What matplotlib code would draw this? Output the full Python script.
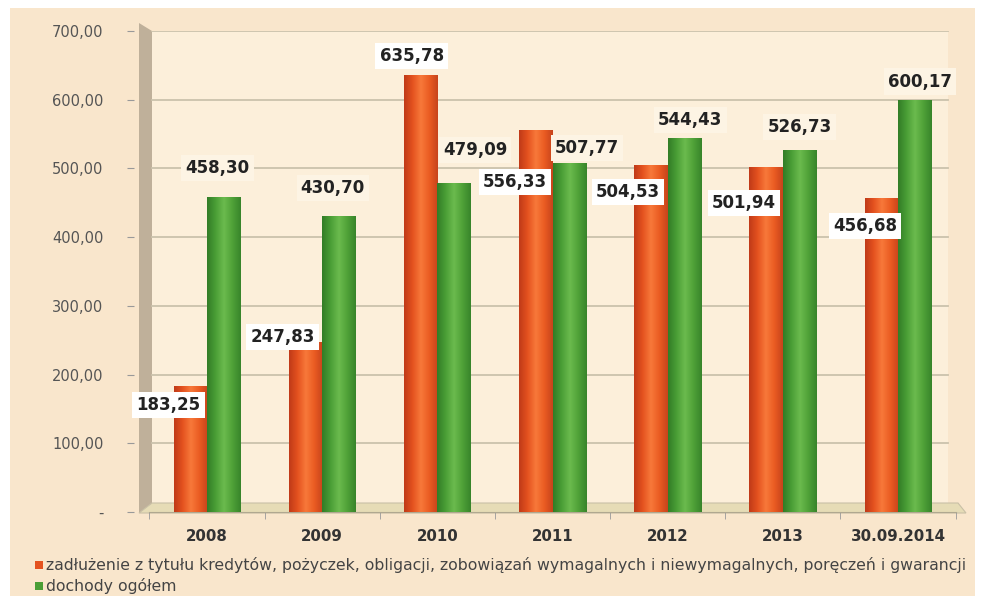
import matplotlib.pyplot as plt
from matplotlib.patches import Polygon, Rectangle
from matplotlib.colors import LinearSegmentedColormap
import numpy as np

categories = ['2008', '2009', '2010', '2011', '2012', '2013', '30.09.2014']
zadluzenie = [183.25, 247.83, 635.78, 556.33, 504.53, 501.94, 456.68]
dochody = [458.30, 430.70, 479.09, 507.77, 544.43, 526.73, 600.17]
yticks = [0, 100, 200, 300, 400, 500, 600, 700]
ytick_labels = ['-', '100,00', '200,00', '300,00', '400,00', '500,00', '600,00', '700,00']
legend_labels = ['zadłużenie z tytułu kredytów, pożyczek, obligacji, zobowiązań wymagalnych i niewymagalnych, poręczeń i gwarancji',
                 'dochody ogółem']

# label offsets (pixels) from bar top centre - placed by hand as in the original
off_z = [(-22, -19), (-23, 5), (-9, 19), (-21, -52), (-23, -27), (-22, -36), (-16, -28)]
off_d = [(-6, 29), (-6, 28), (21, 33), (18, 15), (6, 18), (0, 23), (5, 18)]

W, H = 981, 596
fig = plt.figure(figsize=(W / 100, H / 100), dpi=100, facecolor='white')

def fp(px, py):
    return (px / W, 1 - py / H)

# outer cream panel, back wall, left wall, floor (behind the axes)
bg = [
    Rectangle(fp(10, 596), 965 / W, 588 / H, facecolor='#f9e6cc', edgecolor='none'),
    Rectangle(fp(152, 505), (948 - 152) / W, (505 - 31) / H, facecolor='#fcefda', edgecolor='none'),
    Polygon([fp(139, 23), fp(152, 31), fp(152, 505), fp(139, 513)], closed=True,
            facecolor='#bfb09a', edgecolor='none'),
    Polygon([fp(139, 513), fp(966, 513), fp(958, 503), fp(152, 503)], closed=True,
            facecolor='#e6dcb6', edgecolor='#c9c0a6', linewidth=0.8),
]
for p in bg:
    p.set_transform(fig.transFigure)
    p.set_zorder(-5)
    fig.patches.append(p)

L, R, B, T = 149.4, 955.6, 512, 31
ax = fig.add_axes([L / W, 1 - B / H, (R - L) / W, (B - T) / H])
ax.set_facecolor('none')
ax.set_zorder(2)

x = np.arange(len(categories))
w = 0.29
orange_cmap = LinearSegmentedColormap.from_list('o', ['#c03a18', '#e4521f', '#f8793a', '#ea5c22', '#c8441c'])
green_cmap = LinearSegmentedColormap.from_list('g', ['#327d27', '#4a9e36', '#6bbb4e', '#50a238', '#38852b'])
grad = np.linspace(0, 1, 64).reshape(1, -1)

bars_z = ax.bar(x - w / 2, zadluzenie, width=w, color='#e4521f', zorder=3)
bars_d = ax.bar(x + w / 2, dochody, width=w, color='#4a9e36', zorder=3)
for bars, cmap in [(bars_z, orange_cmap), (bars_d, green_cmap)]:
    for b in bars:
        x0, y0 = b.get_x(), b.get_y()
        im = ax.imshow(grad, extent=[x0, x0 + b.get_width(), y0, y0 + b.get_height()],
                       aspect='auto', cmap=cmap, zorder=3.5)
        im.set_clip_path(b)

for i in range(len(categories)):
    b = bars_z[i]
    ax.annotate(f'{zadluzenie[i]:.2f}'.replace('.', ','),
                (b.get_x() + b.get_width() / 2, zadluzenie[i]),
                xytext=off_z[i], textcoords='offset pixels', ha='center', va='center',
                fontsize=12, fontweight='bold', color='#222222', zorder=6,
                bbox=dict(boxstyle='square,pad=0.25', facecolor='white', edgecolor='none'))
    b = bars_d[i]
    ax.annotate(f'{dochody[i]:.2f}'.replace('.', ','),
                (b.get_x() + b.get_width() / 2, dochody[i]),
                xytext=off_d[i], textcoords='offset pixels', ha='center', va='center',
                fontsize=12, fontweight='bold', color='#222222', zorder=6,
                bbox=dict(boxstyle='square,pad=0.25', facecolor='#fdf4e4', edgecolor='none'))

ax.set_xlim(-0.5, len(categories) - 0.5)
ax.set_ylim(0, 700)
ax.set_yticks(yticks)
ax.set_yticklabels(ytick_labels)
for yv in yticks[1:]:
    ax.axhline(yv, xmin=0.003, xmax=0.991, color='#cbc2ac', linewidth=1.3, zorder=1)

ax.set_xticks(x)
ax.set_xticklabels(categories, fontweight='bold', fontsize=10.8, color='#333333')
ax.set_xticks(np.arange(len(categories) + 1) - 0.5, minor=True)
ax.tick_params(axis='x', which='major', length=0, pad=12)
ax.tick_params(axis='x', which='minor', length=5, color='#999999', direction='out')
ax.tick_params(axis='y', length=5, color='#999999', labelsize=10.5, labelcolor='#555555', pad=17)
ax.spines['left'].set_position(('outward', 11))
for s in ['left', 'right', 'top']:
    ax.spines[s].set_visible(False)
ax.spines['bottom'].set_color('#b0a890')
ax.spines['bottom'].set_linewidth(0.8)

# legend drawn as two lines of text with square markers
for k, (lab, col) in enumerate(zip(legend_labels, ['#e4521f', '#4a9e36'])):
    ly = 565 + k * 21
    fig.patches.append(Rectangle(fp(35, ly + 4), 8 / W, 8 / H, transform=fig.transFigure,
                                 facecolor=col, edgecolor='none'))
    fig.text(46 / W, 1 - ly / H, lab, fontsize=11.3, color='#444444', va='center', ha='left')

fig.savefig('out.png', dpi=100, facecolor='white')
